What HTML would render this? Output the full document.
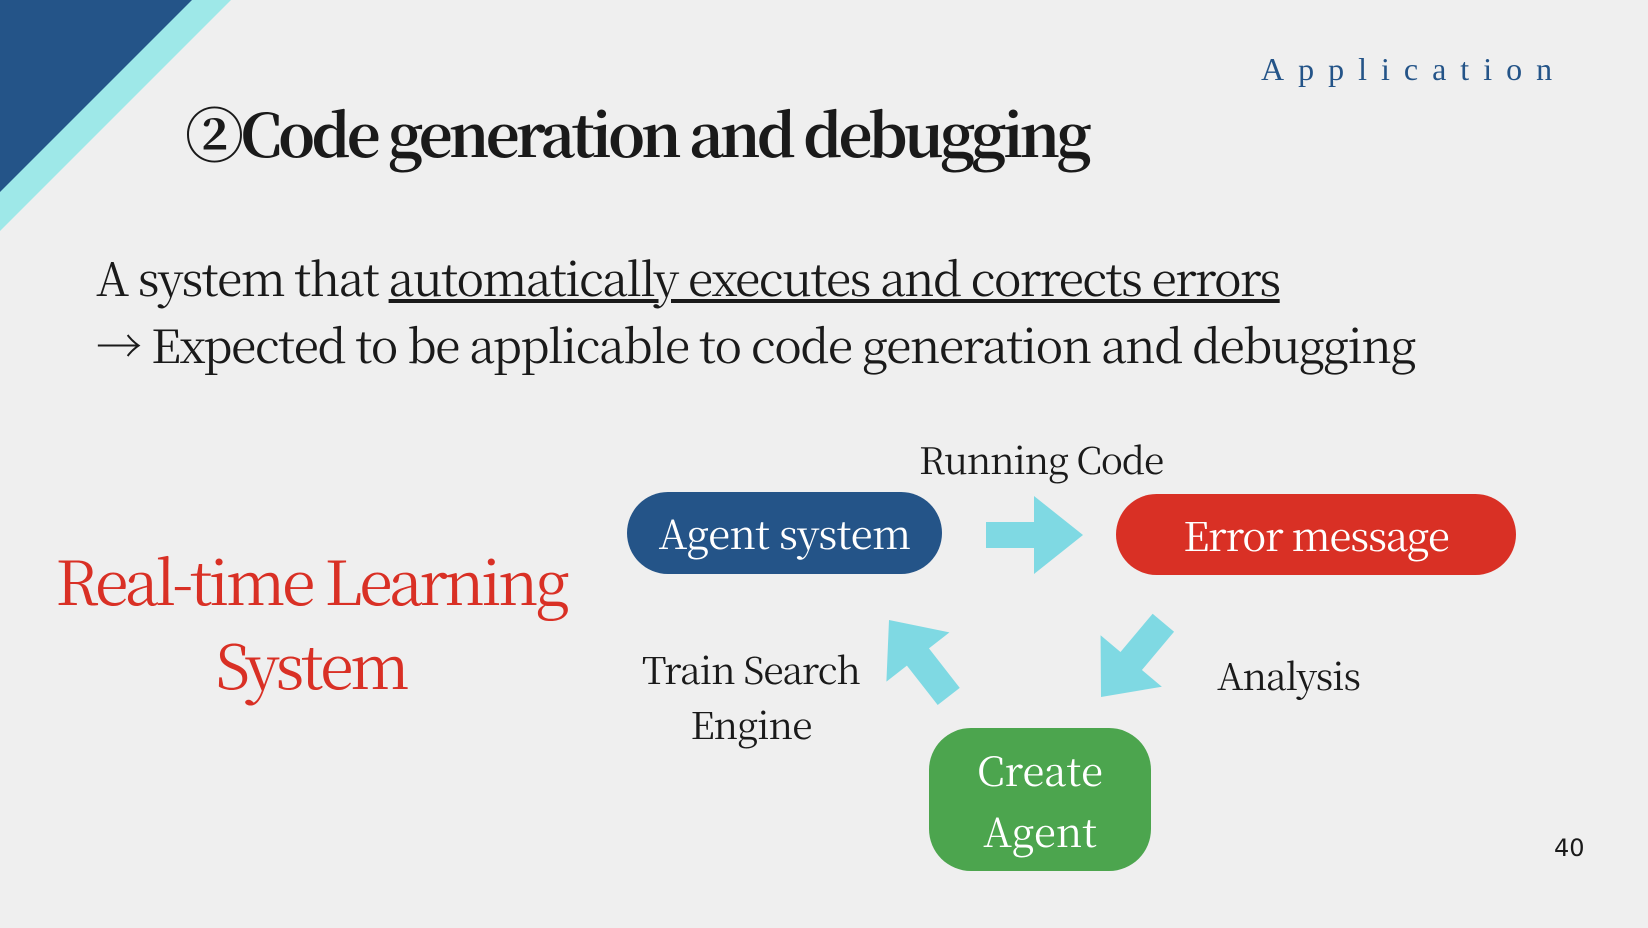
<!DOCTYPE html>
<html><head><meta charset="utf-8"><style>
body{margin:0;width:1648px;height:928px;background:#efefef;position:relative;overflow:hidden;font-family:"Noto Serif CJK SC","Liberation Serif",serif;color:#1a1a1a}
.t{position:absolute;white-space:nowrap;line-height:1.2}
.pill{position:absolute;color:#fff;font-size:40px;display:flex;align-items:center;justify-content:center;text-align:center;line-height:1.2}
</style></head><body>
<svg width="1648" height="928" style="position:absolute;left:0;top:0">
<polygon points="0,0 231,0 0,231" fill="#9ee8e8"/>
<polygon points="0,0 192,0 0,192" fill="#245488"/>
<polygon points="986,522 1034,522 1034,496 1083,535 1034,574 1034,548 986,548" fill="#7fd9e3"/>
<g fill="#7fd9e3">
<polygon transform="translate(1101,697) rotate(130) translate(-97,0)" points="0,-14 50,-14 50,-40 97,0 50,40 50,14 0,14"/>
<polygon transform="translate(889,620) rotate(232) translate(-97,0)" points="0,-14 50,-14 50,-40 97,0 50,40 50,14 0,14"/>
</g>
</svg>
<div class="t" style="left:1261px;top:50px;font-size:32px;letter-spacing:14px;color:#245488;font-family:'Liberation Serif',serif">Application</div>
<div class="t" style="left:185px;top:97px;font-size:59px;font-weight:bold;letter-spacing:-3.6px">②Code generation and debugging</div>
<div class="t" style="left:96px;top:250px;font-size:46px;letter-spacing:-1.5px">A system that <span style="text-decoration:underline">automatically executes and corrects errors</span></div>
<div class="t" style="left:96px;top:317px;font-size:46px;letter-spacing:-1.4px">→ Expected to be applicable to code generation and debugging</div>
<div class="t" style="left:919px;top:436px;font-size:37px;letter-spacing:-1.1px">Running Code</div>
<div class="pill" style="left:627px;top:492px;width:315px;height:82px;border-radius:41px;background:#245488;letter-spacing:-0.6px">Agent system</div>
<div class="pill" style="left:1116px;top:494px;width:400px;height:81px;border-radius:41px;background:#d93025;letter-spacing:-1.1px">Error message</div>
<div class="pill" style="left:929px;top:728px;width:222px;height:143px;border-radius:42px;background:#4ca54e;line-height:61px">Create<br>Agent</div>
<div class="t" style="left:0;width:622px;top:538px;font-size:61px;color:#d93025;text-align:center;line-height:84px;letter-spacing:-3.3px">Real-time Learning<br>System</div>
<div class="t" style="left:600px;width:302px;top:641px;font-size:37px;text-align:center;line-height:55px;letter-spacing:-0.9px">Train Search<br>Engine</div>
<div class="t" style="left:1217px;top:652px;font-size:37px;letter-spacing:-1px">Analysis</div>
<div class="t" style="left:1554px;top:834px;font-size:24px;font-family:'DejaVu Sans',sans-serif;line-height:normal">40</div>
</body></html>
